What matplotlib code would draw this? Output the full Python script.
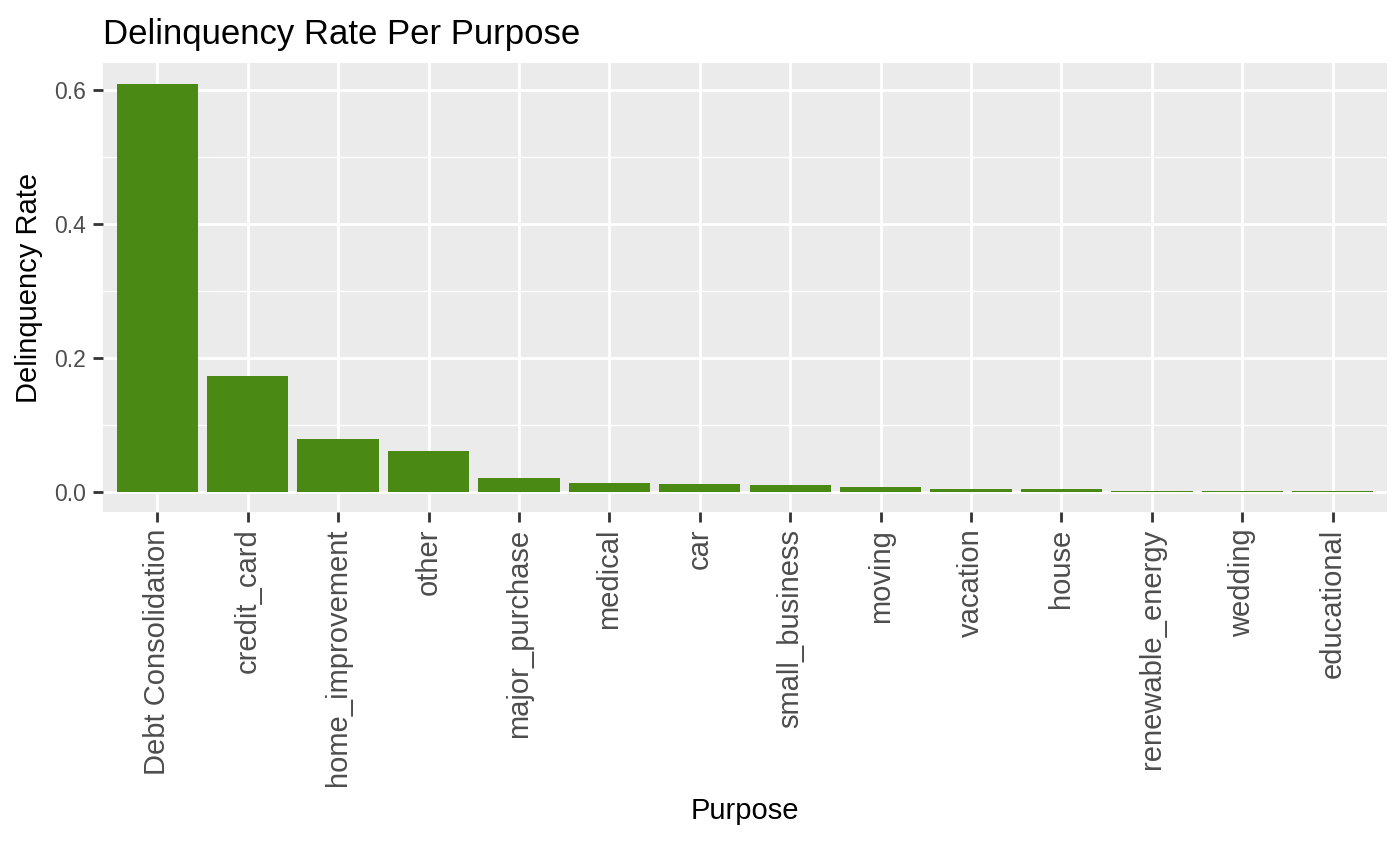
import matplotlib
matplotlib.use('Agg')
import matplotlib.pyplot as plt
import numpy as np

purposes = ['Debt Consolidation', 'credit_card', 'home_improvement', 'other', 'major_purchase',
            'medical', 'car', 'small_business', 'moving', 'vacation', 'house',
            'renewable_energy', 'wedding', 'educational']
rates = [0.609, 0.173, 0.078, 0.061, 0.021, 0.013, 0.012, 0.010, 0.007, 0.004, 0.004,
         0.0015, 0.0005, 0.0002]

plt.rcParams['font.family'] = ['Liberation Sans', 'DejaVu Sans']
fig = plt.figure(figsize=(14, 8.65), dpi=100)
ax = fig.add_axes([103/1400, 1-512/865, (1387-103)/1400, (512-63)/865])
ax.set_facecolor('#EBEBEB')
x = np.arange(len(purposes))
ax.set_axisbelow(True)
for v in [0.1, 0.3, 0.5]:
    ax.axhline(v, color='white', lw=1.0, zorder=0)
ax.grid(True, color='white', lw=2.0)
ax.bar(x, rates, width=0.9, color='#4A8A14', zorder=2)
ax.set_xlim(-0.6, 13.6)
ax.set_ylim(-0.0305, 0.64)
ax.set_xticks(x)
ax.set_xticklabels(purposes, rotation=90, fontsize=21, color='#4D4D4D')
ax.set_yticks([0.0, 0.2, 0.4, 0.6])
ax.set_yticklabels(['0.0', '0.2', '0.4', '0.6'], fontsize=16.5, color='#4D4D4D')
ax.tick_params(length=7, color='#333333', width=2, pad=5)
for s in ax.spines.values():
    s.set_visible(False)
ax.set_xlabel('Purpose', fontsize=21, labelpad=8)
ax.set_ylabel('Delinquency Rate', fontsize=21, labelpad=8)
ax.set_title('Delinquency Rate Per Purpose', loc='left', fontsize=25, pad=14)
fig.savefig('out.png', dpi=100)
